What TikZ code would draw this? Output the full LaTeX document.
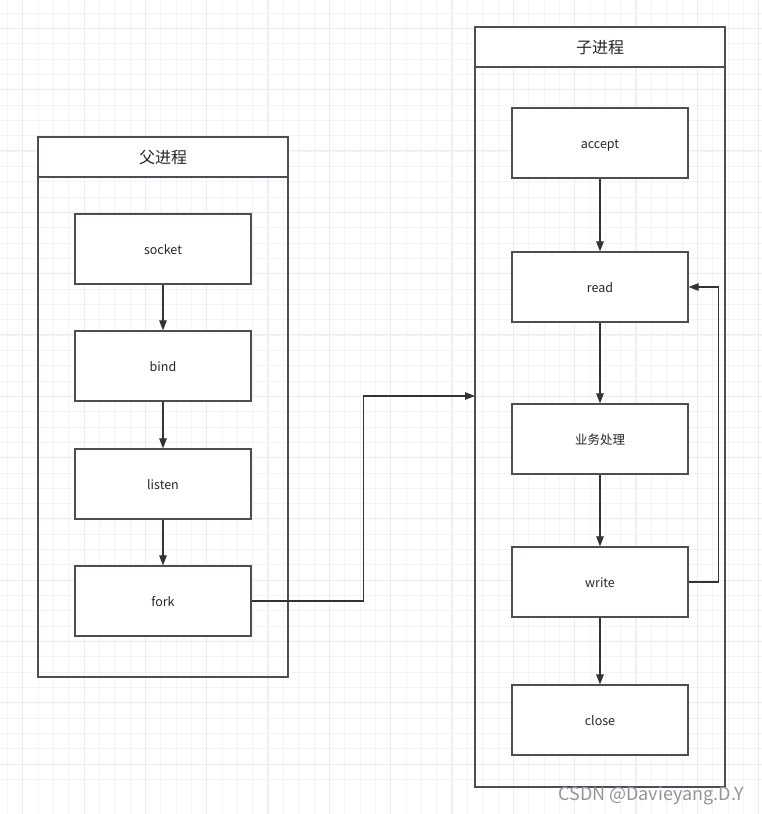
\documentclass[tikz,border=0pt]{standalone}
\usepackage{fontspec}
\setmainfont{Noto Sans CJK SC}
\usetikzlibrary{arrows.meta}
\definecolor{edge}{HTML}{4B4E54}
\definecolor{arr}{HTML}{333333}
\definecolor{gminor}{HTML}{F4F4F4}
\definecolor{gmajor}{HTML}{ECECEC}
\tikzset{
  box/.style={draw=edge, line width=1.2pt, fill=white, minimum width=176pt, minimum height=70pt, inner sep=0pt, font=\fontsize{12.5}{14}\selectfont, text=black!85, text height=10.5pt, text depth=0pt},
  cont/.style={draw=edge, line width=1.5pt, minimum width=250pt, inner sep=0pt},
  head/.style={draw=edge, line width=1.5pt, fill=white, minimum width=250pt, minimum height=40pt, inner sep=0pt, font=\fontsize{16}{18}\selectfont, text=black!85, text height=13pt, text depth=0pt},
  conn/.style={draw=arr, line width=1.1pt, -{Triangle[length=10pt,width=7.5pt]}},
  gminorl/.style={draw=gminor, line width=0.8pt},
  gmajorl/.style={draw=gmajor, line width=1pt},
}
\begin{document}
\begin{tikzpicture}[x=1pt,y=-1pt]
\useasboundingbox (0,0) rectangle (762,814);
\fill[white] (0,0) rectangle (762,814);
% grid
\foreach \i in {0,...,50} {
  \draw[gminorl] ({7.4+15.33*\i},0) -- ({7.4+15.33*\i},814);
  \draw[gminorl] (0,{13+15.33*\i}) -- (762,{13+15.33*\i});
}
\foreach \i in {0,...,13} {
  \draw[gmajorl] ({22.7+61.32*\i},0) -- ({22.7+61.32*\i},814);
  \draw[gmajorl] (0,{28.3+61.32*\i}) -- (762,{28.3+61.32*\i});
}
% parent process
\node[cont, minimum height=540pt] (pc) at (163,407) {};
\node[head] (ph) at (163,157) {父进程};
\node[box] (socket) at (163,249) {socket};
\node[box] (bind) at (163,366) {bind};
\node[box] (listen) at (163,484) {listen};
\node[box] (fork) at (163,601) {fork};
% child process
\node[cont, minimum height=760pt] (cc) at (600,407) {};
\node[head] (ch) at (600,47) {子进程};
\node[box] (accept) at (600,143) {accept};
\node[box] (read) at (600,287) {read};
\node[box] (biz) at (600,439) {业务处理};
\node[box] (write) at (600,582) {write};
\node[box] (close) at (600,720) {close};
% connectors
\draw[conn] (socket) -- (bind);
\draw[conn] (bind) -- (listen);
\draw[conn] (listen) -- (fork);
\draw[conn] (accept) -- (read);
\draw[conn] (read) -- (biz);
\draw[conn] (biz) -- (write);
\draw[conn] (write) -- (close);
\coordinate (cin) at (475,396);
\draw[conn] (fork.east) -- ++(112,0) |- (cin);
\draw[conn] (write.east) -- ++(30,0) |- (read.east);
% watermark
\node[text=black!42, font=\fontsize{18}{20}\selectfont, inner sep=0pt] (wm) at (651,796) {CSDN @Davieyang.D.Y};
\end{tikzpicture}
\end{document}
